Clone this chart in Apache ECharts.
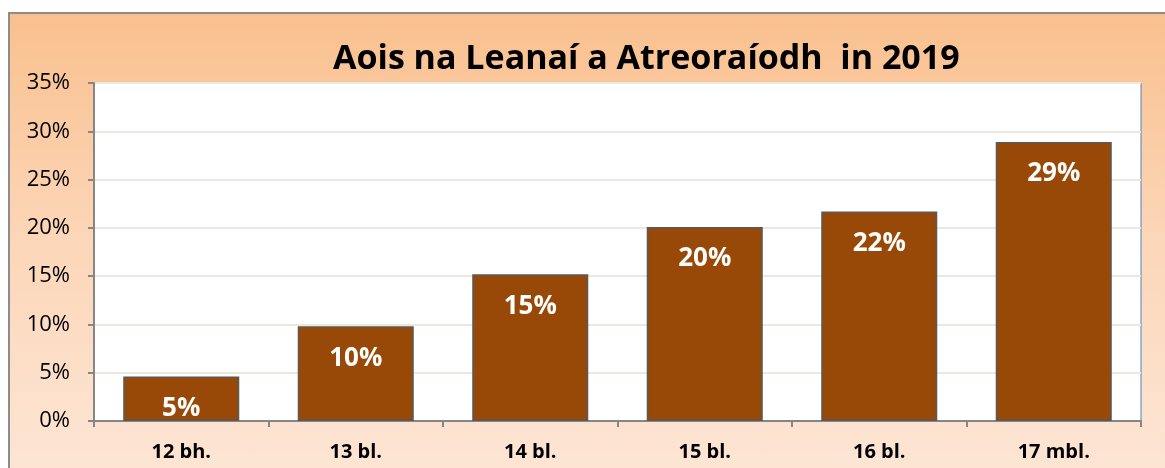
<!DOCTYPE html>
<html>
<head>
<meta charset="utf-8">
<script src="https://cdn.jsdelivr.net/npm/echarts@6/dist/echarts.min.js"></script>
<style>
    html, body { margin: 0; padding: 0; background: #fff; overflow: hidden; }
    #frame {
        position: absolute; left: 8px; top: 12px; width: 1200px; height: 500px;
        border: 2px solid #8c8c8c;
        background: linear-gradient(to bottom, #f9c08e 0%, #fcd6b8 45%, #fde8da 100%);
    }
    #chart { position: absolute; left: 0; top: 0; width: 1165px; height: 468px; }
</style>
</head>
<body>
<div id="frame"></div>
<div id="chart"></div>
<script>
    const categories = ['12 bh.', '13 bl.', '14 bl.', '15 bl.', '16 bl.', '17 mbl.'];
    const values = [4.6, 9.8, 15.2, 20.1, 21.7, 28.9];
    const yTicks = [0, 5, 10, 15, 20, 25, 30, 35];

    const font = 'Open Sans';
    const chart = echarts.init(document.getElementById('chart'));
    chart.setOption({
        backgroundColor: 'transparent',
        textStyle: {fontFamily: font},
        title: {
            text: 'Aois na Leanaí a Atreoraíodh  in 2019',
            left: 328,
            top: 37,
            textStyle: {fontFamily: font, fontWeight: 'bold', fontSize: 34, color: '#000'}
        },
        grid: {
            left: 94, right: 24, top: 83, bottom: 47,
            show: true,
            backgroundColor: '#fff',
            borderColor: '#4f81bd',
            borderWidth: 1
        },
        xAxis: {
            type: 'category',
            data: categories,
            axisLine: {lineStyle: {color: '#868686', width: 2}},
            axisTick: {show: true, length: 6, lineStyle: {color: '#868686', width: 2}},
            axisLabel: {
                margin: 21,
                fontFamily: font, fontWeight: 'bold', fontSize: 20, color: '#000'
            }
        },
        yAxis: {
            type: 'value',
            min: yTicks[0],
            max: yTicks[yTicks.length - 1],
            interval: 5,
            axisLine: {show: true, lineStyle: {color: '#868686', width: 2}},
            axisTick: {show: true, length: 6, lineStyle: {color: '#868686', width: 2}},
            axisLabel: {
                margin: 24,
                formatter: '{value}%',
                fontFamily: font, fontSize: 22, color: '#000'
            },
            splitLine: {lineStyle: {color: '#ece8dc', width: 2}}
        },
        series: [{
            type: 'bar',
            data: values,
            barCategoryGap: '33.5%',
            itemStyle: {color: '#984807', borderColor: '#595959', borderWidth: 1.5},
            label: {
                show: true,
                position: 'insideTop',
                distance: 19,
                formatter: p => Math.round(p.value) + '%',
                fontFamily: font, fontWeight: 'bold', fontSize: 26, color: '#fff'
            }
        }]
    });
</script>
</body>
</html>
